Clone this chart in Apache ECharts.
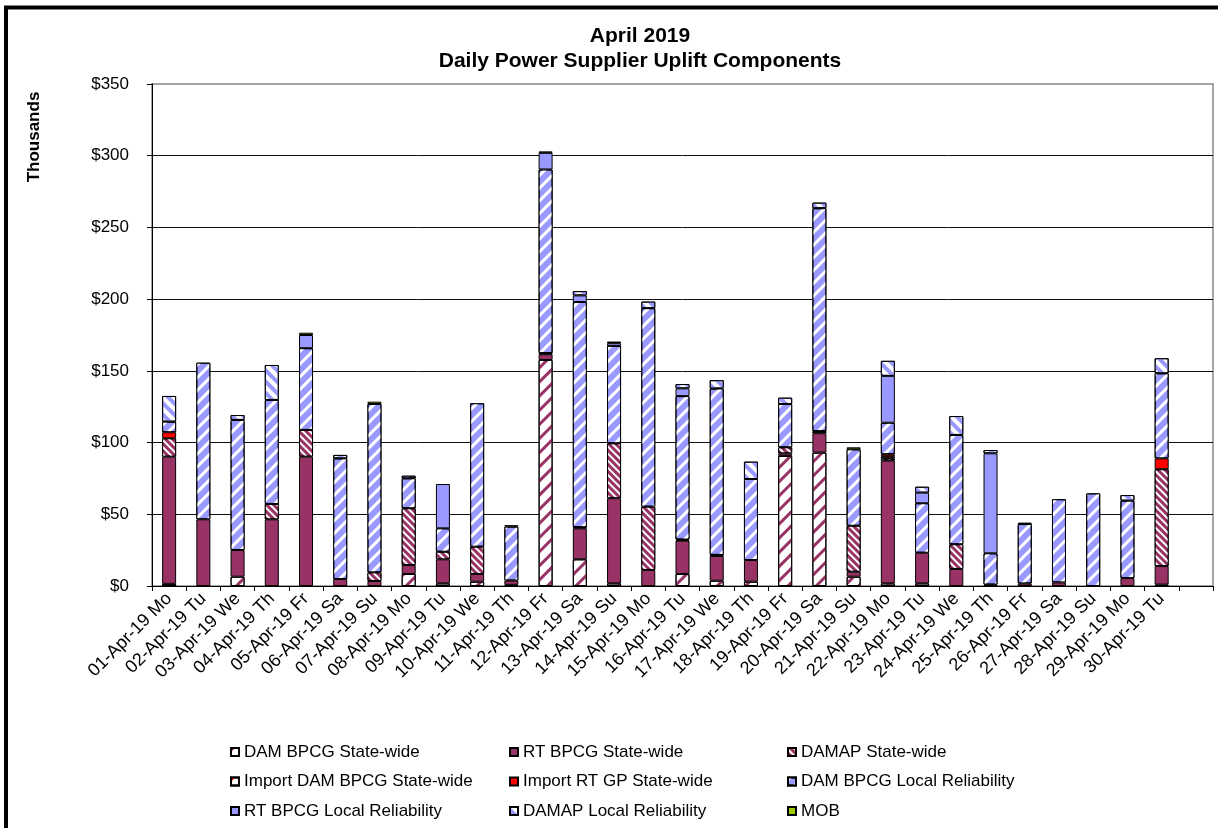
<!DOCTYPE html>
<html>
<head>
<meta charset="utf-8">
<title>Daily Power Supplier Uplift Components</title>
<script src="https://cdn.jsdelivr.net/npm/echarts@6/dist/echarts.min.js"></script>
<style>
  html, body { margin: 0; padding: 0; background: #fff; }
  #chart { width: 1218px; height: 828px; }
</style>
</head>
<body>
<div id="chart"></div>
<script>
  // x categories (the last slot is empty, as in the original)
  const days = ['01-Apr-19 Mo', '02-Apr-19 Tu', '03-Apr-19 We', '04-Apr-19 Th', '05-Apr-19 Fr',
    '06-Apr-19 Sa', '07-Apr-19 Su', '08-Apr-19 Mo', '09-Apr-19 Tu', '10-Apr-19 We',
    '11-Apr-19 Th', '12-Apr-19 Fr', '13-Apr-19 Sa', '14-Apr-19 Su', '15-Apr-19 Mo',
    '16-Apr-19 Tu', '17-Apr-19 We', '18-Apr-19 Th', '19-Apr-19 Fr', '20-Apr-19 Sa',
    '21-Apr-19 Su', '22-Apr-19 Mo', '23-Apr-19 Tu', '24-Apr-19 We', '25-Apr-19 Th',
    '26-Apr-19 Fr', '27-Apr-19 Sa', '28-Apr-19 Su', '29-Apr-19 Mo', '30-Apr-19 Tu', '']

  // values in $ thousands, stacked bottom to top in this order
  const damBpcgSw = [1.5, 0, 6.5, 0, 0, 0, 0, 8.4, 1.8, 3, 0.8, 157.6, 18.6, 1.8, 0, 8.4, 3.7, 3, 90.7, 93,
    6.5, 1.8, 1.8, 0, 1, 0, 0, 0, 0, 1]
  const rtBpcgSw = [88.7, 46.5, 18.6, 46.5, 90.2, 4.9, 3.5, 6.2, 16.8, 5.4, 3, 4, 21.6, 59.4, 11.2, 23.2, 17.2, 15.1, 1.8, 13.5,
    3.5, 85.6, 21.4, 11.9, 0, 1.8, 2.5, 0, 5.5, 12.9]
  const damapSw = [12.8, 0, 0, 10.7, 18.6, 0, 6, 39.6, 5.3, 19, 0, 0.8, 0.8, 38.3, 44.1, 0.8, 0.8, 0, 4.2, 0,
    32, 1.5, 0, 17.2, 0, 0, 0, 0, 0, 67.5]
  const importDamSw = [0, 0, 0, 0, 0, 0, 0, 0, 0, 0, 0, 0, 0, 0, 0, 0, 0, 0, 0, 1.5,
    0, 1.5, 0, 0, 0, 0, 0, 0, 0, 0]
  const importRtSw = [4.2, 0, 0, 0, 0, 0, 0, 0, 0, 0, 0, 0, 0, 0, 0, 0, 0, 0, 0, 0,
    0, 1.5, 0, 0, 0, 0, 0, 0, 0, 7.6]
  const damBpcgLr = [7.4, 109.2, 90.7, 72.5, 57, 84.1, 117.4, 20.9, 16.3, 100, 37.6, 128, 157, 67.9, 138.4, 100, 116, 56.5, 30.2, 155.4,
    53.3, 21.9, 34.5, 76.2, 21.8, 41.4, 58, 64.6, 54, 59.3]
  const rtBpcgLr = [0, 0, 0, 0, 9.2, 0, 0, 0, 30.9, 0, 0, 11.6, 4.6, 1.9, 0, 5.4, 0, 0, 0, 0,
    0, 32.7, 7.4, 0, 69.7, 0, 0, 0, 0, 0]
  const damapLr = [17.9, 0, 3.4, 24.4, 0, 2.4, 0, 1.8, 0, 0, 0, 0, 3, 1, 4.6, 3, 5.8, 12.1, 4.4, 3.9,
    0, 10.5, 4.1, 13.2, 2.3, 0, 0, 0, 3.9, 10.5]
  const mob = [0, 0, 0, 0, 1.6, 0, 1.6, 0, 0, 0, 1, 1, 0, 0, 0, 0, 0, 0, 0, 0,
    1.4, 0, 0, 0, 0, 1, 0, 0, 0, 0]

  const yTicks = [0, 50, 100, 150, 200, 250, 300, 350]

  const FONT = '"Liberation Sans", Arial, sans-serif'
  const MAROON = '#993366'
  const BLUE = '#9999ff'

  // striped fills
  function stripes (color, on, off, rot) {
    return { symbol: 'rect', symbolSize: 1, color: color, dashArrayX: [1, 0], dashArrayY: [on, off], rotation: rot }
  }
  const UP = -Math.PI / 4 // "/"
  const DOWN = Math.PI / 4 // "\"

  const seriesDefs = [
    { name: 'DAM BPCG State-wide', data: damBpcgSw, color: '#ffffff', decal: stripes(MAROON, 2.5, 6.5, UP) },
    { name: 'RT BPCG State-wide', data: rtBpcgSw, color: MAROON },
    { name: 'DAMAP State-wide', data: damapSw, color: MAROON, decal: stripes('#ffffff', 2, 2.2, DOWN) },
    { name: 'Import DAM BPCG State-wide', data: importDamSw, color: '#ffffff', decal: stripes('#ff0000', 2.5, 6.5, UP) },
    { name: 'Import RT GP State-wide', data: importRtSw, color: '#ff0000' },
    { name: 'DAM BPCG Local Reliability', data: damBpcgLr, color: BLUE, decal: stripes('#ffffff', 3, 6, UP) },
    { name: 'RT BPCG Local Reliability', data: rtBpcgLr, color: BLUE },
    { name: 'DAMAP Local Reliability', data: damapLr, color: '#ffffff', decal: stripes(BLUE, 3.5, 3.5, DOWN) },
    { name: 'MOB', data: mob, color: '#99cc00' }
  ]

  const series = seriesDefs.map(function (s) {
    const itemStyle = { color: s.color, borderColor: '#000', borderWidth: 1 }
    if (s.decal) itemStyle.decal = s.decal
    return {
      name: s.name,
      type: 'bar',
      stack: 'total',
      barWidth: 14,
      itemStyle: itemStyle,
      emphasis: { disabled: true },
      data: s.data.map(function (v) { return v === 0 ? null : v })
    }
  })

  // three legend columns
  const legendCols = [
    { left: 225, names: [0, 3, 6] },
    { left: 504, names: [1, 4, 7] },
    { left: 782, names: [2, 5, 8] }
  ]
  const legends = legendCols.map(function (c) {
    return {
      orient: 'vertical',
      left: c.left,
      top: 738,
      itemWidth: 8,
      itemHeight: 8,
      itemGap: 11.5,
      icon: 'rect',
      selectedMode: false,
      textStyle: { fontFamily: FONT, fontSize: 17, color: '#000', lineHeight: 18 },
      data: c.names.map(function (i) { return seriesDefs[i].name })
    }
  })

  const chart = echarts.init(document.getElementById('chart'), null, { renderer: 'canvas' })
  chart.setOption({
    animation: false,
    backgroundColor: '#fff',
    legend: legends,
    grid: {
      left: 152,
      right: 5,
      top: 84,
      bottom: 242,
      show: true,
      borderColor: '#888',
      borderWidth: 1.5
    },
    xAxis: {
      type: 'category',
      data: days,
      axisLine: { lineStyle: { color: '#000', width: 1 } },
      axisTick: { show: true, length: 5, lineStyle: { color: '#000' } },
      axisLabel: {
        interval: 0,
        rotate: 45,
        margin: 10,
        fontFamily: FONT,
        fontSize: 18,
        color: '#000'
      }
    },
    yAxis: {
      type: 'value',
      min: yTicks[0],
      max: yTicks[yTicks.length - 1],
      interval: 50,
      axisLine: { show: true, lineStyle: { color: '#000', width: 1 } },
      axisTick: { show: true, length: 5, lineStyle: { color: '#000' } },
      axisLabel: {
        margin: 23,
        fontFamily: FONT,
        fontSize: 17,
        color: '#000',
        formatter: function (v) { return '$' + v }
      },
      splitLine: { show: true, showMaxLine: false, lineStyle: { color: '#111', width: 1 } }
    },
    graphic: [
      // outer chart frame (only the left and top edges are in view)
      {
        type: 'rect',
        z: -1,
        shape: { x: 6, y: 7.5, width: 1400, height: 1000 },
        style: { fill: 'none', stroke: '#000', lineWidth: 4 }
      },
      {
        type: 'text',
        x: 640,
        y: 36,
        style: { text: 'April 2019', font: 'bold 21px ' + FONT, fill: '#000', textAlign: 'center', textVerticalAlign: 'middle' }
      },
      {
        type: 'text',
        x: 640,
        y: 61,
        style: { text: 'Daily Power Supplier Uplift Components', font: 'bold 21px ' + FONT, fill: '#000', textAlign: 'center', textVerticalAlign: 'middle' }
      },
      {
        type: 'text',
        x: 34,
        y: 137,
        rotation: Math.PI / 2,
        style: { text: 'Thousands', font: 'bold 17px ' + FONT, fill: '#000', textAlign: 'center', textVerticalAlign: 'middle' }
      }
    ],
    series: series
  })
</script>
</body>
</html>
